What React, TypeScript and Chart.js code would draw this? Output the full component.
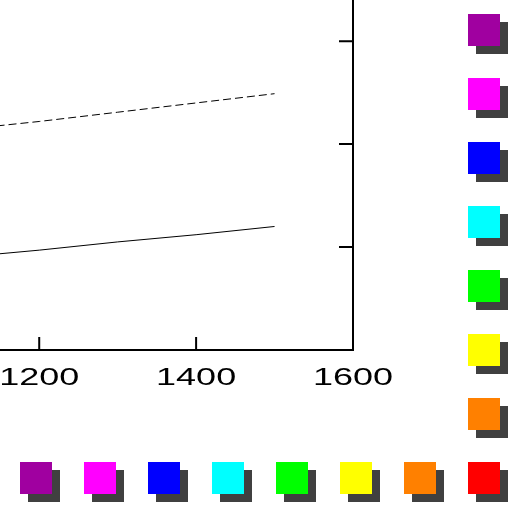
import React, { useEffect, useRef } from "react";
import { Chart, registerables } from "chart.js";

Chart.register(...registerables);

// ---- data ----
const xValues = [1100, 1200, 1300, 1400, 1500];
const dashedSeries = [2.14, 2.22, 2.31, 2.4, 2.49];
const solidSeries = [0.9, 0.97, 1.05, 1.12, 1.2];
const xTickValues = [1200, 1400, 1600];
const xTickLabels = ["1200", "1400", "1600"];
const yTickValues = [1, 2, 3];
const legendColors = [
  "#A000A0",
  "#FF00FF",
  "#0000FF",
  "#00FFFF",
  "#00FF00",
  "#FFFF00",
  "#FF8000",
  "#FF0000",
];

const framePlugin = {
  id: "frame",
  afterDraw(chart: any) {
    const ctx = chart.ctx;
    const { left, right, top, bottom } = chart.chartArea;
    const xs = chart.scales.x;
    const ys = chart.scales.y;
    ctx.save();
    ctx.strokeStyle = "#000";
    ctx.lineWidth = 2;
    ctx.beginPath();
    ctx.moveTo(left, bottom);
    ctx.lineTo(right + 1, bottom);
    ctx.moveTo(right, top);
    ctx.lineTo(right, bottom + 1);
    xTickValues.forEach((v) => {
      const px = xs.getPixelForValue(v);
      ctx.moveTo(px, bottom);
      ctx.lineTo(px, bottom - 13);
    });
    yTickValues.forEach((v) => {
      const py = ys.getPixelForValue(v);
      ctx.moveTo(right, py);
      ctx.lineTo(right - 14, py);
    });
    ctx.stroke();

    ctx.fillStyle = "#000";
    ctx.font = '24px "Liberation Sans", Arial, sans-serif';
    ctx.textAlign = "center";
    ctx.textBaseline = "alphabetic";
    xTickValues.forEach((v, i) => {
      const px = xs.getPixelForValue(v);
      ctx.save();
      ctx.translate(px, bottom + 35);
      ctx.scale(1.5, 1);
      ctx.fillText(xTickLabels[i], 0, 0);
      ctx.restore();
    });

    // legend boxes
    const size = 32;
    const off = 8;
    const step = 64;
    const colX = chart.width - 40;
    const rowY = chart.height - 45;
    const drawBox = (x: number, y: number, c: string) => {
      ctx.fillStyle = "#404040";
      ctx.fillRect(x + off, y + off, size, size);
      ctx.fillStyle = c;
      ctx.fillRect(x, y, size, size);
    };
    legendColors.forEach((c, i) => drawBox(colX, 14 + step * i, c));
    legendColors.forEach((c, i) => drawBox(20 + step * i, rowY, c));
    ctx.restore();
  },
};

export default function App() {
  const ref = useRef<HTMLCanvasElement>(null);
  useEffect(() => {
    document.body.style.margin = "0";
    const chart = new Chart(ref.current as HTMLCanvasElement, {
      type: "line",
      data: {
        labels: xValues,
        datasets: [
          {
            label: "dashed",
            data: xValues.map((x, i) => ({ x, y: dashedSeries[i] })),
            borderColor: "#000",
            borderWidth: 1,
            borderDash: [8, 4],
            pointRadius: 0,
            fill: false,
          },
          {
            label: "solid",
            data: xValues.map((x, i) => ({ x, y: solidSeries[i] })),
            borderColor: "#000",
            borderWidth: 1,
            pointRadius: 0,
            fill: false,
          },
        ],
      },
      options: {
        animation: false,
        responsive: false,
        devicePixelRatio: 1,
        layout: { padding: { left: 0, top: 0, right: 155, bottom: 157 } },
        plugins: {
          legend: { display: false },
          tooltip: { enabled: false },
        },
        scales: {
          x: {
            type: "linear",
            min: 1150,
            max: 1600,
            display: false,
          },
          y: {
            type: "linear",
            min: 0,
            max: 3.4,
            display: false,
          },
        },
      },
      plugins: [framePlugin],
    });
    return () => chart.destroy();
  }, []);
  return (
    <div style={{ position: "absolute", left: 0, top: 0, width: 508, height: 507 }}>
      <canvas ref={ref} width={508} height={507} style={{ display: "block" }} />
    </div>
  );
}
